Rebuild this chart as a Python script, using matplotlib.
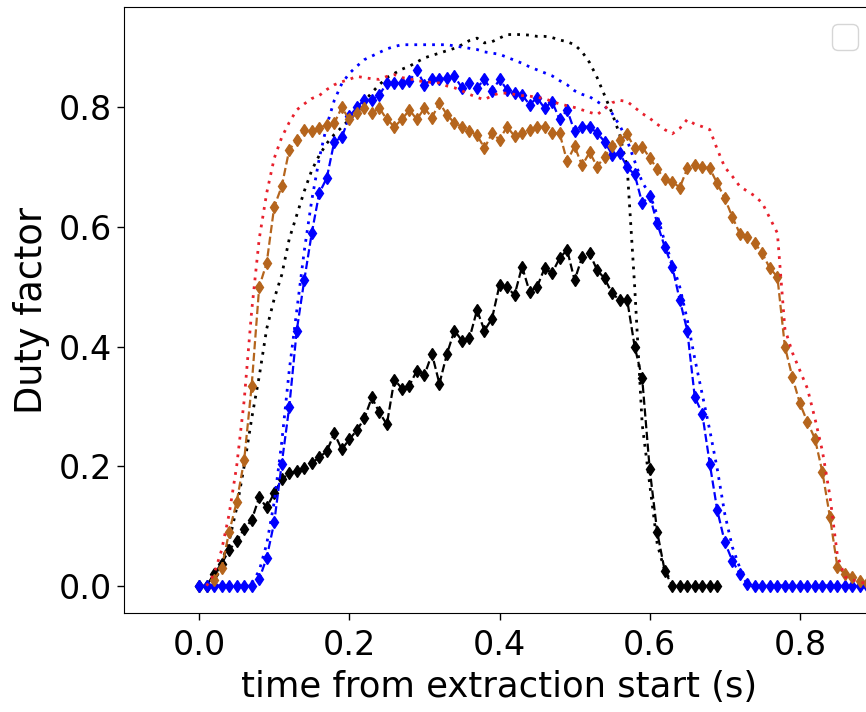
import numpy as np
import matplotlib
matplotlib.use("Agg")
import matplotlib.pyplot as plt

dt = 0.01  # sampling interval (s)

# black, dashed with diamonds (starts at t=0.00)
black_marked = [0.00, 0.00, 0.02, 0.037, 0.06, 0.075, 0.095, 0.11, 0.148, 0.131,
                0.155, 0.178, 0.188, 0.192, 0.197, 0.205, 0.215, 0.225, 0.255, 0.228,
                0.245, 0.26, 0.28, 0.315, 0.29, 0.27, 0.345, 0.33, 0.335, 0.36,
                0.352, 0.388, 0.338, 0.388, 0.427, 0.41, 0.414, 0.461, 0.427, 0.447,
                0.503, 0.50, 0.486, 0.534, 0.492, 0.50, 0.531, 0.523, 0.548, 0.562,
                0.511, 0.55, 0.556, 0.528, 0.514, 0.489, 0.478, 0.478, 0.40, 0.347,
                0.195, 0.09, 0.025, 0.0, 0.0, 0.0, 0.0, 0.0, 0.0, 0.0]
black_marked_t0 = 0.00

# black, dotted (starts at t=0.01)
black_dotted = [0.0, 0.015, 0.04, 0.075, 0.13, 0.2, 0.28, 0.35, 0.43, 0.48,
                0.52, 0.58, 0.62, 0.66, 0.695, 0.72, 0.74, 0.755, 0.767, 0.78,
                0.795, 0.81, 0.825, 0.838, 0.85, 0.857, 0.864, 0.869, 0.876, 0.883,
                0.887, 0.891, 0.895, 0.899, 0.905, 0.912, 0.916, 0.908, 0.91, 0.916,
                0.922, 0.922, 0.922, 0.921, 0.919, 0.919, 0.917, 0.913, 0.91, 0.905,
                0.893, 0.875, 0.85, 0.82, 0.79, 0.755, 0.70, 0.50, 0.27, 0.17,
                0.07, 0.025, 0.005]
black_dotted_t0 = 0.01

# blue, dashed with diamonds (starts at t=0.00)
blue_marked = [0.0, 0.0, 0.0, 0.0, 0.0, 0.0, 0.0, 0.0, 0.011, 0.047,
               0.106, 0.204, 0.299, 0.427, 0.511, 0.59, 0.657, 0.682, 0.743, 0.75,
               0.785, 0.80, 0.813, 0.813, 0.821, 0.841, 0.841, 0.841, 0.844, 0.863,
               0.838, 0.847, 0.847, 0.849, 0.852, 0.833, 0.841, 0.833, 0.847, 0.827,
               0.847, 0.83, 0.824, 0.821, 0.805, 0.816, 0.799, 0.81, 0.78, 0.796,
               0.76, 0.768, 0.768, 0.757, 0.743, 0.721, 0.724, 0.70, 0.688, 0.64,
               0.652, 0.606, 0.567, 0.534, 0.478, 0.427, 0.316, 0.288, 0.204, 0.126,
               0.073, 0.042, 0.02, 0.003, 0.0, 0.0, 0.0, 0.0, 0.0, 0.0,
               0.0, 0.0, 0.0, 0.0, 0.0, 0.0, 0.0, 0.0, 0.0, 0.0, 0.0]
blue_marked_t0 = 0.00

# blue, dotted (starts at t=0.00)
blue_dotted = [0.0, 0.0, 0.0, 0.0, 0.0, 0.0, 0.0, 0.005, 0.025, 0.07,
               0.14, 0.24, 0.36, 0.46, 0.56, 0.645, 0.715, 0.77, 0.812, 0.84,
               0.857, 0.869, 0.88, 0.886, 0.892, 0.898, 0.902, 0.905, 0.905, 0.905,
               0.905, 0.905, 0.905, 0.905, 0.903, 0.901, 0.899, 0.897, 0.893, 0.891,
               0.889, 0.884, 0.879, 0.874, 0.868, 0.863, 0.858, 0.853, 0.845, 0.838,
               0.828, 0.822, 0.818, 0.81, 0.802, 0.79, 0.77, 0.745, 0.71, 0.675,
               0.655, 0.62, 0.575, 0.54, 0.50, 0.445, 0.38, 0.32, 0.26, 0.195,
               0.12, 0.065, 0.03, 0.01, 0.0, 0.0, 0.0, 0.0, 0.0, 0.0,
               0.0, 0.0, 0.0, 0.0, 0.0, 0.0, 0.0, 0.0, 0.0, 0.0, 0.0]
blue_dotted_t0 = 0.00

# brown, dashed with diamonds (starts at t=0.02)
brown_marked = [0.01, 0.03, 0.09, 0.14, 0.21, 0.335, 0.50, 0.54, 0.634, 0.668,
                0.729, 0.746, 0.763, 0.76, 0.766, 0.771, 0.774, 0.80, 0.78, 0.79,
                0.799, 0.791, 0.799, 0.78, 0.768, 0.78, 0.796, 0.78, 0.799, 0.783,
                0.808, 0.788, 0.774, 0.768, 0.76, 0.754, 0.732, 0.757, 0.746, 0.768,
                0.752, 0.757, 0.763, 0.768, 0.768, 0.757, 0.757, 0.71, 0.735, 0.703,
                0.725, 0.701, 0.718, 0.735, 0.745, 0.755, 0.732, 0.734, 0.716, 0.697,
                0.68, 0.676, 0.666, 0.698, 0.704, 0.701, 0.698, 0.673, 0.648, 0.617,
                0.589, 0.584, 0.573, 0.556, 0.531, 0.517, 0.40, 0.349, 0.305, 0.274,
                0.246, 0.19, 0.115, 0.031, 0.02, 0.014, 0.008, 0.005, 0.003]
brown_marked_t0 = 0.02

# red, dotted (starts at t=0.01)
red_dotted = [0.0, 0.02, 0.06, 0.12, 0.2, 0.31, 0.46, 0.58, 0.657, 0.715,
              0.75, 0.775, 0.796, 0.806, 0.815, 0.82, 0.83, 0.838, 0.843, 0.847,
              0.852, 0.85, 0.848, 0.847, 0.852, 0.855, 0.85, 0.848, 0.845, 0.843,
              0.842, 0.841, 0.836, 0.833, 0.828, 0.822, 0.817, 0.813, 0.82, 0.824,
              0.824, 0.822, 0.82, 0.819, 0.817, 0.815, 0.81, 0.806, 0.803, 0.80,
              0.796, 0.792, 0.788, 0.798, 0.808, 0.812, 0.81, 0.80, 0.79, 0.782,
              0.772, 0.763, 0.756, 0.765, 0.78, 0.772, 0.768, 0.763, 0.73, 0.70,
              0.685, 0.668, 0.66, 0.652, 0.64, 0.615, 0.59, 0.43, 0.39, 0.36,
              0.33, 0.28, 0.225, 0.15, 0.05, 0.015, 0.01, 0.006, 0.004, 0.003]
red_dotted_t0 = 0.01

x_ticks = [0.0, 0.2, 0.4, 0.6, 0.8]
y_ticks = [0.0, 0.2, 0.4, 0.6, 0.8]


def times(values, t0):
    return t0 + dt * np.arange(len(values))


BROWN = '#b5651d'
RED = '#e8202c'
DOT = (0, (1, 2.2))
MS = 6

fig = plt.figure(figsize=(8.66, 7.12), dpi=100)
ax = fig.add_axes([0.1432, 0.1386, 0.8672, 0.8515])

ax.plot(times(black_marked, black_marked_t0), black_marked, color='k', ls='--',
        lw=1.6, marker='d', ms=MS)
ax.plot(times(black_dotted, black_dotted_t0), black_dotted, color='k', ls=DOT, lw=2)
ax.plot(times(blue_marked, blue_marked_t0), blue_marked, color='blue', ls='--',
        lw=1.6, marker='d', ms=MS)
ax.plot(times(blue_dotted, blue_dotted_t0), blue_dotted, color='blue', ls=DOT, lw=2)
ax.plot(times(brown_marked, brown_marked_t0), brown_marked, color=BROWN, ls='--',
        lw=1.6, marker='d', ms=MS)
ax.plot(times(red_dotted, red_dotted_t0), red_dotted, color=RED, ls=DOT, lw=2)

ax.set_xlim(-0.1, 0.9)
ax.set_ylim(-0.046, 0.968)
ax.set_xticks(x_ticks)
ax.set_yticks(y_ticks)
ax.tick_params(labelsize=24, length=5, width=1)
ax.tick_params(axis='x', pad=6)
ax.set_xlabel('time from extraction start (s)', fontsize=25.5, labelpad=6)
ax.set_ylabel('Duty factor', fontsize=26.5, labelpad=6)
ax.legend(handles=[], loc='upper right', fontsize=24)

fig.savefig('out.png', dpi=100)
